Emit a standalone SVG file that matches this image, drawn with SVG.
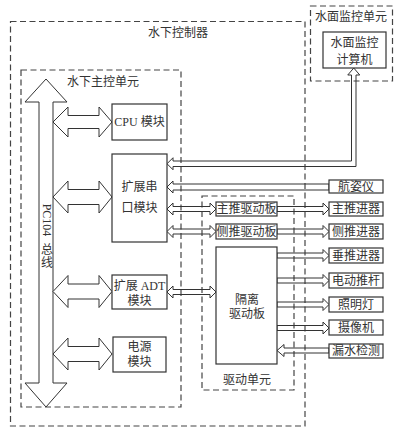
<svg xmlns="http://www.w3.org/2000/svg" width="407" height="439" viewBox="0 0 407 439">
<style>
.dash{fill:none;stroke:#444;stroke-width:1.2;stroke-dasharray:6 3.5}
.box{fill:#fff;stroke:#333;stroke-width:1.2}
.arr{fill:#fff;stroke:#333;stroke-width:1}
.thin{fill:none;stroke:#333;stroke-width:1}
text{font-family:"Liberation Serif","Noto Sans CJK SC",serif;font-size:12px;fill:#333;text-anchor:middle}
</style>
<rect width="407" height="439" fill="#fff"/>
<g id="underwater-controller">
<rect class="dash" x="10.5" y="21.5" width="294.5" height="404.5"/>
<text x="178" y="37">水下控制器</text>
</g>
<g id="surface-unit">
<rect class="dash" x="310.5" y="6" width="82" height="75"/>
<text x="351" y="21">水面监控单元</text>
</g>
<g id="surface-computer">
<rect class="box" x="323" y="32" width="63" height="36"/>
<text x="354.5" y="47">水面监控</text>
<text x="354.5" y="64">计算机</text>
</g>
<g id="main-control-unit">
<rect class="dash" x="21" y="70" width="160" height="337"/>
<text x="103" y="86">水下主控单元</text>
</g>
<g id="drive-unit">
<rect class="dash" x="202" y="196" width="92" height="194"/>
<text x="247" y="384">驱动单元</text>
</g>
<g id="connectors">
<polygon class="arr" points="46,79 67,102 53,102 53,383 67,383 46,407 25,383 39,383 39,102 25,102"/>
<polygon class="arr" points="53,122 68,107 68,115.5 99,115.5 99,107 112,122 99,137 99,128.5 68,128.5 68,137"/>
<polygon class="arr" points="53,197 68,181 68,189.5 99,189.5 99,181 112,197 99,213 99,204.5 68,204.5 68,213"/>
<polygon class="arr" points="53,291.5 68,275.5 68,284 99,284 99,275.5 112,291.5 99,307.5 99,299 68,299 68,307.5"/>
<polygon class="arr" points="53,354 68,338 68,346.5 99,346.5 99,338 112,354 99,370 99,361.5 68,361.5 68,370"/>
<polygon class="thin" points="353.75,68 359.75,75 356,75 356,166.5 173,166.5 173,169.75 167,163.75 173,157.75 173,161 351.5,161 351.5,75 347.75,75"/>
<polygon class="thin" points="167,187 173,181 173,184 329,184 329,190 173,190 173,193"/>
<polygon class="thin" points="167,209 173,203 173,206.5 210,206.5 210,203 216,209 210,215 210,211.5 173,211.5 173,215"/>
<polygon class="thin" points="167,231.5 173,225.5 173,229 210,229 210,225.5 216,231.5 210,237.5 210,234 173,234 173,237.5"/>
<polygon class="thin" points="167,292 173,286 173,289.5 210,289.5 210,286 216,292 210,298 210,294.5 173,294.5 173,298"/>
<polygon class="thin" points="277,206.5 323,206.5 323,203 329,209 323,215 323,211.5 277,211.5"/>
<polygon class="thin" points="277,229 323,229 323,225.5 329,231.5 323,237.5 323,234 277,234"/>
<polygon class="thin" points="277,253 323,253 323,249.5 329,255.5 323,261.5 323,258 277,258"/>
<polygon class="thin" points="277,278 323,278 323,274.5 329,280.5 323,286.5 323,283 277,283"/>
<polygon class="thin" points="277,302 323,302 323,298.5 329,304.5 323,310.5 323,307 277,307"/>
<polygon class="thin" points="277,325.5 323,325.5 323,322 329,328 323,334 323,330.5 277,330.5"/>
<polygon class="thin" points="277,350.5 284,344.5 284,348 329,348 329,353 284,353 284,356.5"/>
</g>
<g id="pc104-bus-label">
<text x="47" y="224" transform="rotate(90 47 220)">PC104</text>
<text x="47" y="254">总</text>
<text x="47" y="266.5">线</text>
</g>
<g id="cpu">
<rect class="box" x="112" y="104" width="55" height="36"/>
<text x="139.5" y="126">CPU 模块</text>
</g>
<g id="serial">
<rect class="box" x="112" y="154" width="55" height="88"/>
<text x="139.5" y="191">扩展串</text>
<text x="139.5" y="212">口模块</text>
</g>
<g id="adt">
<rect class="box" x="112" y="275" width="55" height="34"/>
<text x="139.5" y="290">扩展 ADT</text>
<text x="139.5" y="305">模块</text>
</g>
<g id="power">
<rect class="box" x="113" y="337" width="53" height="35"/>
<text x="139.5" y="351">电源</text>
<text x="139.5" y="366">模块</text>
</g>
<g id="main-drive"><rect class="box" x="216" y="202" width="61" height="14"/><text x="246.5" y="213.3">主推驱动板</text></g>
<g id="side-drive"><rect class="box" x="216" y="224" width="61" height="15"/><text x="246.5" y="235.8">侧推驱动板</text></g>
<g id="isolation-drive"><rect class="box" x="216" y="247" width="61" height="117"/><text x="247" y="304">隔离</text><text x="247" y="318">驱动板</text></g>
<g id="ahrs"><rect class="box" x="329" y="180" width="54" height="13"/><text x="356" y="191">航姿仪</text></g>
<g id="main-thruster"><rect class="box" x="329" y="202" width="54" height="14"/><text x="356" y="213.3">主推进器</text></g>
<g id="side-thruster"><rect class="box" x="329" y="224" width="54" height="15"/><text x="356" y="235.8">侧推进器</text></g>
<g id="vertical-thruster"><rect class="box" x="329" y="248" width="54" height="15"/><text x="356" y="259.8">垂推进器</text></g>
<g id="actuator"><rect class="box" x="329" y="273" width="54" height="15"/><text x="356" y="284.8">电动推杆</text></g>
<g id="light"><rect class="box" x="329" y="297" width="54" height="15"/><text x="356" y="308.8">照明灯</text></g>
<g id="camera"><rect class="box" x="329" y="320" width="54" height="15"/><text x="356" y="331.8">摄像机</text></g>
<g id="leak"><rect class="box" x="329" y="344" width="54" height="14"/><text x="356" y="355.3">漏水检测</text></g>
</svg>
